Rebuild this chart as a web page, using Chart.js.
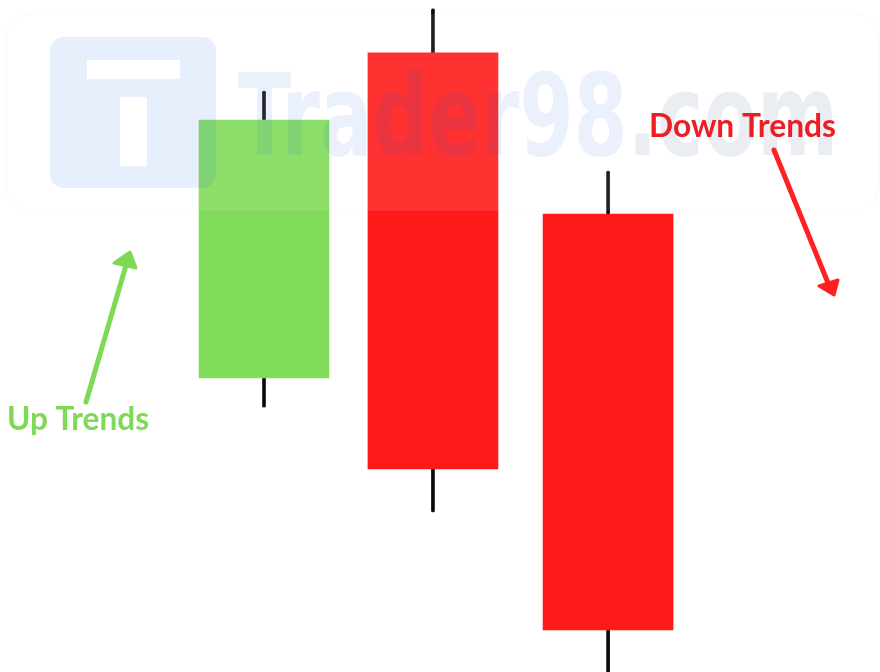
<!DOCTYPE html>
<html>
<head>
<meta charset="utf-8">
<script src="https://cdn.jsdelivr.net/npm/chart.js@4.4.0/dist/chart.umd.min.js"></script>
<style>
  body { margin: 0; background: #ffffff; }
  #wrap { width: 880px; height: 672px; }
</style>
</head>
<body>
<div id="wrap"><canvas id="myChart" width="880" height="672"></canvas></div>
<script>
// Candle data (price units, x = time position)
var candleX = [3.0, 4.92, 6.91];
var openVals = [36.75, 77.4, 57.25];
var closeVals = [69.0, 25.4, 5.25];
var highVals = [72.6, 82.9, 62.6];
var lowVals = [33.1, 20.0, -2.0];

var upColor = '#80dc5a';
var downColor = '#ff1a1a';

// build floating bar data from the arrays
var bodyData = [];
var wickData = [];
var bodyColors = [];
for (let i = 0; i < candleX.length; i++) {
    bodyData.push({ x: candleX[i], y: [openVals[i], closeVals[i]] });
    wickData.push({ x: candleX[i], y: [lowVals[i], highVals[i]] });
    bodyColors.push(closeVals[i] >= openVals[i] ? upColor : downColor);
}

function roundRect(ctx, x, y, w, h, r) {
    ctx.moveTo(x + r, y);
    ctx.arcTo(x + w, y, x + w, y + h, r);
    ctx.arcTo(x + w, y + h, x, y + h, r);
    ctx.arcTo(x, y + h, x, y, r);
    ctx.arcTo(x, y, x + w, y, r);
    ctx.closePath();
}

function arrow(ctx, color, x1, y1, x2, y2, head) {
    ctx.strokeStyle = color;
    ctx.fillStyle = color;
    ctx.lineWidth = 5;
    ctx.lineCap = 'round';
    ctx.lineJoin = 'round';
    ctx.beginPath();
    ctx.moveTo(x1, y1);
    ctx.lineTo(x2, y2);
    ctx.stroke();
    ctx.lineWidth = 3;
    ctx.beginPath();
    ctx.moveTo(head[0][0], head[0][1]);
    ctx.lineTo(head[1][0], head[1][1]);
    ctx.lineTo(head[2][0], head[2][1]);
    ctx.closePath();
    ctx.fill();
    ctx.stroke();
}

// watermark + annotations drawn on top of the candles
var overlayPlugin = {
    id: 'overlay',
    afterDatasetsDraw: function (chart) {
        var ctx = chart.ctx;
        ctx.save();

        // faint panel
        ctx.beginPath();
        roundRect(ctx, 6, 14, 873, 197, 26);
        ctx.fillStyle = 'rgba(255,255,255,0.1)';
        ctx.fill();
        ctx.strokeStyle = 'rgba(0,0,0,0.025)';
        ctx.lineWidth = 1;
        ctx.stroke();

        // logo square with T cut out
        ctx.beginPath();
        roundRect(ctx, 50, 37, 166, 151, 14);
        ctx.rect(87, 60, 93, 19);
        ctx.rect(120, 97, 27, 69);
        ctx.fillStyle = 'rgba(20,100,235,0.1)';
        ctx.fill('evenodd');

        // site name
        ctx.font = 'bold 114px "DejaVu Sans Condensed", "DejaVu Sans", sans-serif';
        ctx.textBaseline = 'alphabetic';
        ctx.textAlign = 'left';
        var full = ctx.measureText('Trader98.com').width;
        var part = ctx.measureText('Trader98').width;
        var s = 600 / full;
        ctx.save();
        ctx.translate(238, 155);
        ctx.scale(s, 1);
        ctx.fillStyle = 'rgba(20,100,235,0.09)';
        ctx.fillText('Trader98', 0, 0);
        ctx.fillStyle = 'rgba(60,100,150,0.11)';
        ctx.fillText('.com', part, 0);
        ctx.restore();

        // labels
        ctx.font = 'bold 33px Lato, "Open Sans", sans-serif';
        ctx.fillStyle = '#7ed957';
        ctx.fillText('Up Trends', 7, 430, 142);
        ctx.fillStyle = '#ee1d24';
        ctx.fillText('Down Trends', 649, 137, 187);

        // arrows
        arrow(ctx, '#7ed957', 86, 402, 127, 262, [[114, 263], [130, 252], [136, 268]]);
        arrow(ctx, '#ff2020', 774, 150, 828, 283, [[819, 286], [834, 295], [838, 280]]);

        ctx.restore();
    }
};

const ctx = document.getElementById('myChart');
var chart = new Chart(ctx, {
    type: 'bar',
    data: {
        datasets: [{
            label: 'body',
            data: bodyData,
            backgroundColor: bodyColors,
            barThickness: 130,
            grouped: false,
            order: 1
        }, {
            label: 'wick',
            data: wickData,
            backgroundColor: '#0a0a0a',
            barThickness: 3,
            borderRadius: 1.5,
            borderSkipped: false,
            grouped: false,
            order: 2
        }]
    },
    options: {
        responsive: false,
        animation: false,
        layout: { padding: 0 },
        plugins: {
            legend: { display: false },
            tooltip: { enabled: false }
        },
        scales: {
            x: { type: 'linear', min: 0, max: 10, offset: false, display: false },
            y: { min: 0, max: 84, display: false }
        }
    },
    plugins: [overlayPlugin]
});
</script>
</body>
</html>
